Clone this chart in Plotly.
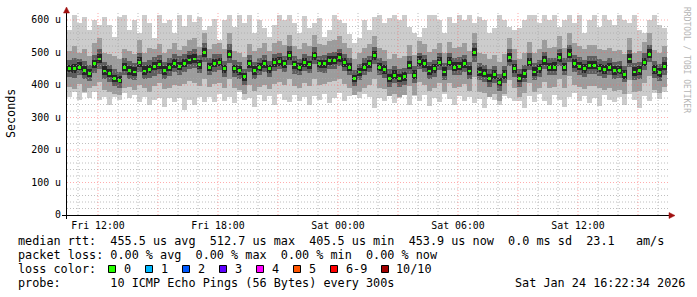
import plotly.graph_objects as go
import pandas as pd

# ---------------- data ----------------
START = "2026-01-23 10:27:00"     # left edge of the time axis
STEP_MIN = 15                     # minutes per sample
SPAN_H = 30                       # hours shown

median = [450,450,455,445,436,465,480,443,436,420,415,455,445,440,470,443,448,456,462,445,455,465,458,466,477,480,464,500,455,466,
          470,450,495,450,445,425,465,445,455,465,450,468,472,465,490,462,455,468,462,490,465,465,474,476,485,468,455,420,440,455,
          465,490,455,448,420,430,420,425,460,430,472,465,443,450,470,440,470,455,458,465,443,500,440,436,420,432,408,432,485,450,
          420,435,470,440,451,475,455,455,485,455,495,465,458,450,460,460,452,448,455,445,446,433,480,440,445,470,495,448,438,458]

ping_max = [569,615,590,609,569,600,585,609,585,548,609,615,569,600,560,615,590,544,615,590,600,560,615,582,615,594,609,569,582,603,
            540,600,615,580,615,590,615,560,600,575,548,585,615,600,615,592,560,612,575,590,605,548,570,615,600,590,556,530,545,600,
            570,610,615,590,605,615,600,615,580,560,548,575,615,615,600,560,610,590,615,600,615,590,610,600,560,575,615,600,580,570,
            575,600,615,615,590,615,600,615,580,600,615,590,615,560,600,615,580,615,600,585,615,600,590,615,570,560,600,615,585,575]

ping_min = [364,380,354,375,360,378,354,364,338,364,354,375,360,370,348,364,338,354,360,332,360,348,360,323,354,338,364,348,364,348,
            372,350,364,345,380,355,360,333,370,352,365,340,372,355,348,368,350,362,338,365,355,372,345,360,375,350,365,385,360,372,
            362,330,360,350,370,345,360,375,340,365,352,368,335,360,348,372,356,340,365,350,362,345,358,330,368,355,340,365,360,350,
            352,330,365,348,372,350,340,368,355,332,362,375,350,365,345,360,335,370,355,348,362,340,372,355,330,365,350,375,358,380]

p2 = [395,388,402,380,392,398,410,385,378,372,368,390,395,384,400,392,380,398,405,388,392,400,396,404,412,405,398,420,395,402,
      405,392,420,390,385,372,400,382,395,400,388,402,410,400,418,398,392,405,398,420,400,402,410,412,418,404,392,370,380,392,
      400,418,392,388,365,372,362,368,398,370,408,400,382,390,405,380,405,392,395,402,382,425,380,375,362,372,352,372,415,390,
      362,375,405,380,390,410,392,395,418,392,428,400,395,388,398,398,390,385,392,382,385,372,415,378,382,405,428,385,375,395]
p9 = [505,520,498,512,490,530,545,500,495,488,480,510,505,496,540,500,515,510,525,498,512,530,508,520,540,545,518,560,510,525,
      530,510,560,505,500,485,525,505,515,530,505,528,535,522,555,520,512,530,520,555,525,522,535,540,550,528,515,480,498,515,
      525,550,515,508,480,495,482,488,522,492,535,525,502,510,530,500,532,515,518,528,505,560,500,495,480,492,470,495,545,512,
      480,498,532,500,512,538,515,518,550,515,560,528,520,512,522,522,512,508,515,505,508,495,545,500,505,532,560,508,498,520]
p3 = [425,422,430,418,412,438,450,420,410,398,392,430,418,415,440,420,422,428,435,420,428,440,432,440,448,452,438,470,430,440,
      445,425,468,425,420,400,440,418,430,440,425,442,448,440,462,435,430,442,436,465,440,438,448,450,460,442,430,398,415,430,
      440,465,430,422,395,405,395,400,435,405,448,440,418,425,445,415,445,430,432,440,418,472,415,410,395,405,382,405,458,425,
      395,410,445,415,425,450,430,430,460,430,470,440,432,425,435,435,428,422,430,420,422,408,455,415,420,445,470,422,412,432]
p8 = [478,482,480,475,462,492,510,470,462,448,440,482,475,468,500,470,478,485,492,472,482,495,488,495,505,512,492,530,482,495,
      495,475,525,478,470,450,492,470,482,492,475,495,498,490,520,488,480,495,488,518,490,492,500,502,512,495,482,445,465,482,
      490,518,482,475,448,458,448,452,488,458,500,492,470,478,498,468,498,482,485,492,470,530,468,462,448,460,435,460,512,478,
      448,462,498,468,478,502,482,484,512,482,522,492,485,478,488,488,480,475,482,472,474,460,508,468,472,498,522,475,465,485]
p4 = [440,438,445,432,425,452,468,432,425,410,405,442,432,428,456,432,436,445,450,432,442,452,446,455,465,468,450,485,442,455,
      458,438,482,438,432,412,452,432,442,452,438,455,460,452,476,450,442,455,450,478,452,452,462,464,472,455,442,408,428,442,
      452,478,442,435,408,418,408,412,448,418,460,452,430,438,458,428,458,442,445,452,430,488,428,424,408,420,396,420,472,438,
      408,422,458,428,438,462,442,442,472,442,482,452,445,438,448,448,440,435,442,432,434,420,468,428,432,458,482,435,425,445]
p7 = [462,465,470,458,450,478,495,458,448,432,428,468,460,455,485,458,462,470,476,460,468,480,472,480,492,495,478,515,468,480,
      482,462,508,462,458,438,478,458,468,478,462,482,485,478,505,475,468,482,475,502,478,478,488,490,498,482,468,432,452,468,
      478,505,468,462,434,445,434,440,475,445,488,480,458,465,485,455,485,470,472,480,458,515,455,450,434,446,422,446,500,465,
      434,448,484,454,465,490,468,470,500,468,510,480,472,464,474,474,466,462,468,458,460,446,494,454,458,484,510,462,452,472]

y_ticks = [0, 100, 200, 300, 400, 500, 600]
y_tick_text = ["0", "100 u", "200 u", "300 u", "400 u", "500 u", "600 u"]
x_tick_times = ["2026-01-23 12:00", "2026-01-23 18:00", "2026-01-24 00:00", "2026-01-24 06:00", "2026-01-24 12:00"]
x_tick_text = ["Fri 12:00", "Fri 18:00", "Sat 00:00", "Sat 06:00", "Sat 12:00"]

loss_labels = ["0", "1", "2", "3", "4", "5", "6-9", "10/10"]
loss_colors = ["#26ff00", "#00b8ff", "#0059ff", "#5e00ff", "#ff00ff", "#ff5500", "#ff0000", "#a10000"]

line_rtt = "median rtt:  455.5 us avg  512.7 us max  405.5 us min  453.9 us now  0.0 ms sd  23.1   am/s"
line_loss = "packet loss: 0.00 % avg  0.00 % max  0.00 % min  0.00 % now"
line_color_lbl = "loss color:"
line_probe = "probe:       10 ICMP Echo Pings (56 Bytes) every 300s"
stamp = "Sat Jan 24 16:22:34 2026"
watermark = "RRDTOOL / TOBI OETIKER"

# ---------------- layout geometry ----------------
W, H = 697, 297
L, R, T, B = 67, 30, 15, 82
PW, PH = W - L - R, H - T - B
Y_MAX = 615.4
MONO = "DejaVu Sans Mono"


def px(x):
    return (x - L) / PW


def py(y):
    return (H - B - y) / PH


start = pd.Timestamp(START)
end = start + pd.Timedelta(hours=SPAN_H)
n = len(median)
times = [start + pd.Timedelta(minutes=STEP_MIN * (i + 0.5)) for i in range(n)]
bar_w = STEP_MIN * 60 * 1000 * 1.02

fig = go.Figure()
bands = [(ping_min, ping_max, "#cccccc"), (p2, p9, "#9c9c9c"),
         (p3, p8, "#5e5e5e"), (p4, p7, "#262626")]
for lo, hi, col in bands:
    fig.add_trace(go.Bar(x=times, y=[h - l for l, h in zip(lo, hi)], base=lo, width=bar_w,
                         marker=dict(color=col, line=dict(width=0)),
                         hoverinfo="skip", showlegend=False))
MED_H = 9
fig.add_trace(go.Bar(x=times, y=[MED_H] * n, base=[m - MED_H / 2 for m in median],
                     width=STEP_MIN * 60 * 1000 * 0.7,
                     marker=dict(color=loss_colors[0], line=dict(width=0)),
                     hoverinfo="skip", showlegend=False))

shapes = []
GRID_MINOR = "rgba(170,170,170,0.75)"
GRID_MAJOR = "rgba(255,90,90,0.5)"
# horizontal grid
for v in range(20, 620, 20):
    shapes.append(dict(type="line", xref="paper", yref="y", x0=0, x1=1.004, y0=v, y1=v, layer="above",
                       line=dict(color=GRID_MAJOR if v % 100 == 0 else GRID_MINOR, width=1, dash="1px,2px")))
# vertical grid
t = start.ceil("h")
while t < end:
    shapes.append(dict(type="line", xref="x", yref="paper", x0=t, x1=t, y0=0, y1=1.01, layer="above",
                       line=dict(color=GRID_MAJOR if t.hour % 3 == 0 else GRID_MINOR, width=1, dash="1px,2px")))
    t += pd.Timedelta(hours=1)
# axes lines + arrows
AX = "#000000"
ARROW = "#a01010"
shapes.append(dict(type="line", xref="paper", yref="paper", x0=px(62), x1=px(671), y0=py(215.5), y1=py(215.5),
                   line=dict(color=AX, width=1), layer="above"))
shapes.append(dict(type="line", xref="paper", yref="paper", x0=px(66.5), x1=px(66.5), y0=py(219), y1=py(11),
                   line=dict(color=AX, width=1), layer="above"))
shapes.append(dict(type="path", xref="paper", yref="paper", layer="above",
                   path=f"M {px(669)} {py(212.5)} L {px(675)} {py(215.5)} L {px(669)} {py(218.5)} Z",
                   fillcolor=ARROW, line=dict(color=ARROW, width=0.5)))
shapes.append(dict(type="path", xref="paper", yref="paper", layer="above",
                   path=f"M {px(63.5)} {py(13)} L {px(66.5)} {py(7)} L {px(69.5)} {py(13)} Z",
                   fillcolor=ARROW, line=dict(color=ARROW, width=0.5)))

# legend squares
sq_x = [108.5, 145.5, 182.5, 219.5, 256.5, 293.5, 330.5, 381.5]
lbl_x = [121.5, 158.5, 195.5, 232.5, 269.5, 306.5, 343.5, 394.5]
for xs, col in zip(sq_x, loss_colors):
    shapes.append(dict(type="rect", xref="paper", yref="paper", x0=px(xs), x1=px(xs + 7),
                       y0=py(265.5), y1=py(272.5), fillcolor=col, line=dict(color="#000000", width=1)))

ann = []


def text(x, y, s, size=11.7, color="#000000", anchor="left", angle=0):
    ann.append(dict(x=px(x), y=py(y), xref="paper", yref="paper", text=s, showarrow=False,
                    xanchor=anchor, yanchor="middle", textangle=angle,
                    font=dict(family=MONO, size=size, color=color)))


text(16, 241, line_rtt.replace(" ", "&nbsp;"), size=11.8)
text(16, 255, line_loss.replace(" ", "&nbsp;"), size=11.8)
text(16, 269, line_color_lbl, size=11.8)
for xl, lab in zip(lbl_x, loss_labels):
    text(xl, 269, lab, size=11.8)
text(16, 283, line_probe.replace(" ", "&nbsp;"), size=11.8)
text(513, 283, stamp, size=11.8)
text(11, 114, "Seconds", size=11.7, anchor="center", angle=-90)
text(686, 60, watermark, size=8, color="#b4b4b4", anchor="center", angle=90)

fig.update_layout(
    width=W, height=H, margin=dict(l=L, r=R, t=T, b=B, pad=0),
    paper_bgcolor="#ffffff", plot_bgcolor="#ffffff",
    barmode="overlay", bargap=0, showlegend=False,
    shapes=shapes, annotations=ann,
    xaxis=dict(type="date", range=[start, end], tickvals=x_tick_times, ticktext=x_tick_text,
               showgrid=False, zeroline=False, showline=False, ticks="", ticklabelstandoff=3,
               tickfont=dict(family=MONO, size=9.9, color="#000000"), fixedrange=True),
    yaxis=dict(range=[0, Y_MAX], tickvals=y_ticks, ticktext=y_tick_text,
               showgrid=False, zeroline=False, showline=False, ticks="", ticklabelstandoff=5,
               tickfont=dict(family=MONO, size=9.9, color="#000000"), fixedrange=True),
)

fig.write_html("out.html")
